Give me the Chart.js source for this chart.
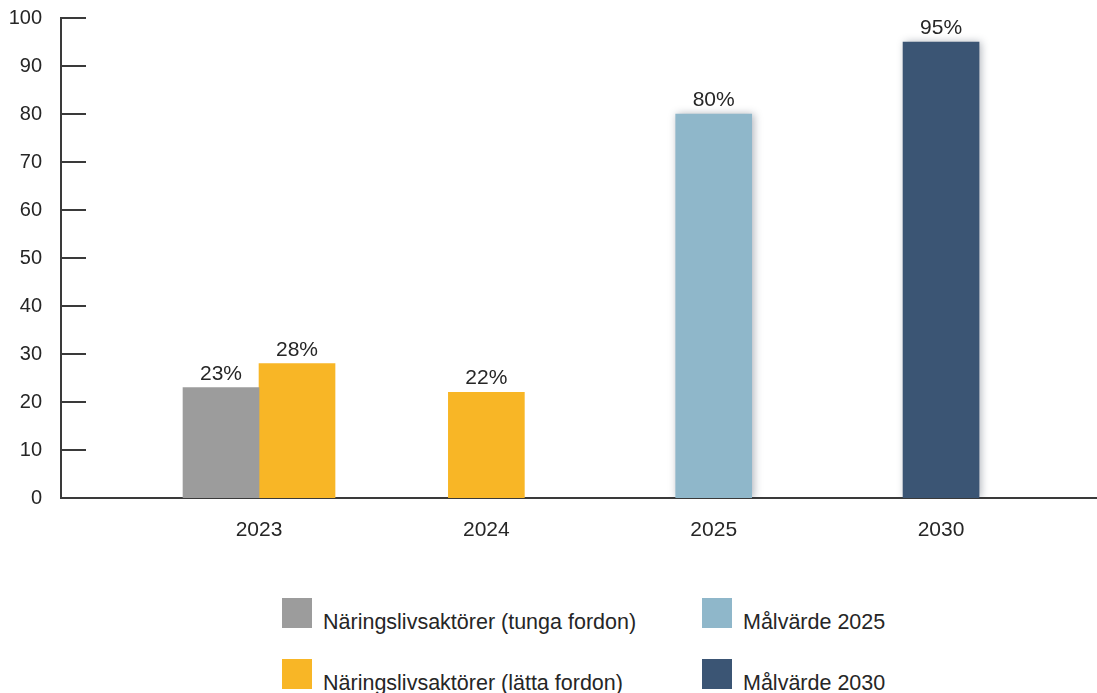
<!DOCTYPE html>
<html>
<head>
<meta charset="utf-8">
<script src="https://cdn.jsdelivr.net/npm/chart.js@4.4.1/dist/chart.umd.min.js"></script>
<style>
    body { margin: 0; background: #fff; font-family: "Liberation Sans", Arial, sans-serif; }
    #wrap { position: relative; width: 1097px; height: 693px; overflow: hidden; }
    #grafico { position: absolute; left: 0; top: 0; }
    .leg-box { position: absolute; width: 30px; height: 30px; }
    .leg-text { position: absolute; font-size: 21.5px; line-height: 20px; color: #262626; white-space: nowrap; }
</style>
</head>
<body>
<div id="wrap">
    <canvas id="grafico" width="1097" height="560"></canvas>
    <div id="legenda"></div>
</div>
<script>
// data
const years = ['2023', '2024', '2025', '2030'];
const seriesNames = [
    'Näringslivsaktörer (tunga fordon)',
    'Näringslivsaktörer (lätta fordon)',
    'Målvärde 2025',
    'Målvärde 2030'
];
const tungaFordon = [23, null, null, null];
const lattaFordon = [28, 22, null, null];
const malvarde2025 = [null, null, 80, null];
const malvarde2030 = [null, null, null, 95];
const yTicks = [0, 10, 20, 30, 40, 50, 60, 70, 80, 90, 100];

const colors = ['#9c9c9c', '#f8b626', '#8fb7ca', '#3b5574'];
const withShadow = [false, false, true, true];
const axisColor = '#3a3a3a';
const fontFamily = '"Liberation Sans", Arial, sans-serif';

const toPoints = (values) => values.map((v, i) => ({ x: i, y: v }));

const allSeries = [tungaFordon, lattaFordon, malvarde2025, malvarde2030];

// soft shadow behind the target bars
const shadowPlugin = {
    id: 'barShadow',
    beforeDatasetDraw(chart, args) {
        if (!withShadow[args.index]) return;
        const c = chart.ctx;
        c.save();
        c.shadowColor = 'rgba(30, 40, 60, 0.35)';
        c.shadowBlur = 8;
        c.shadowOffsetX = 2;
        c.shadowOffsetY = 0;
    },
    afterDatasetDraw(chart, args) {
        if (!withShadow[args.index]) return;
        chart.ctx.restore();
    }
};

// short tick marks on the inside of the y axis
const innerTicksPlugin = {
    id: 'innerTicks',
    afterDraw(chart) {
        const c = chart.ctx;
        const y = chart.scales.y;
        const left = chart.chartArea.left;
        c.save();
        c.strokeStyle = axisColor;
        c.lineWidth = 2;
        yTicks.forEach(v => {
            const py = Math.round(y.getPixelForValue(v));
            c.beginPath();
            c.moveTo(left, py);
            c.lineTo(left + 25, py);
            c.stroke();
        });
        c.restore();
    }
};

// value labels above bars
const labelPlugin = {
    id: 'valueLabels',
    afterDatasetsDraw(chart) {
        const c = chart.ctx;
        c.save();
        c.font = '21px ' + fontFamily;
        c.fillStyle = '#262626';
        c.textAlign = 'center';
        c.textBaseline = 'alphabetic';
        chart.data.datasets.forEach((ds, di) => {
            const meta = chart.getDatasetMeta(di);
            meta.data.forEach((bar, i) => {
                const v = allSeries[di][i];
                if (v === null) return;
                c.fillText(v + '%', bar.x, bar.y - 8);
            });
        });
        c.restore();
    }
};

const ctx = document.getElementById('grafico').getContext('2d');
const chart = new Chart(ctx, {
    type: 'bar',
    data: {
        datasets: allSeries.map((values, i) => ({
            label: seriesNames[i],
            data: toPoints(values),
            backgroundColor: colors[i],
            borderWidth: 0,
            barThickness: 76,
            skipNull: true
        }))
    },
    plugins: [shadowPlugin, innerTicksPlugin, labelPlugin],
    options: {
        responsive: false,
        animation: false,
        layout: { padding: { top: 18, left: 9, right: 0, bottom: 0 } },
        plugins: {
            legend: { display: false },
            tooltip: { enabled: false }
        },
        scales: {
            x: {
                type: 'linear',
                min: -0.871,
                max: 3.686,
                offset: false,
                afterBuildTicks: (scale) => {
                    scale.ticks = years.map((_, i) => ({ value: i }));
                },
                afterFit: (scale) => { scale.height = 62; },
                ticks: {
                    callback: (v) => years[v],
                    font: { size: 21, family: fontFamily },
                    color: '#262626',
                    padding: 20,
                    maxRotation: 0
                },
                grid: { display: false, drawTicks: false, offset: false },
                border: { display: true, color: axisColor, width: 2 }
            },
            y: {
                min: 0,
                max: 100,
                afterBuildTicks: (scale) => {
                    scale.ticks = yTicks.map(v => ({ value: v }));
                },
                afterFit: (scale) => {
                    scale.width = 52;
                    scale.paddingTop = 0;
                    scale.paddingBottom = 0;
                },
                ticks: {
                    font: { size: 20, family: fontFamily },
                    color: '#262626',
                    padding: 19
                },
                grid: { display: false, drawTicks: false },
                border: { display: true, color: axisColor, width: 2 }
            }
        }
    }
});

// legend in two columns, like the original
const legendSlots = [
    { left: 282, top: 598 },
    { left: 282, top: 659 },
    { left: 702, top: 598 },
    { left: 702, top: 659 }
];
const legenda = document.getElementById('legenda');
legenda.innerHTML = seriesNames.map((name, i) => `
    <div class="leg-box" style="left:${legendSlots[i].left}px;top:${legendSlots[i].top}px;background:${colors[i]}"></div>
    <div class="leg-text" style="left:${legendSlots[i].left + 41}px;top:${legendSlots[i].top + 14}px">${name}</div>
`).join('');
</script>
</body>
</html>
